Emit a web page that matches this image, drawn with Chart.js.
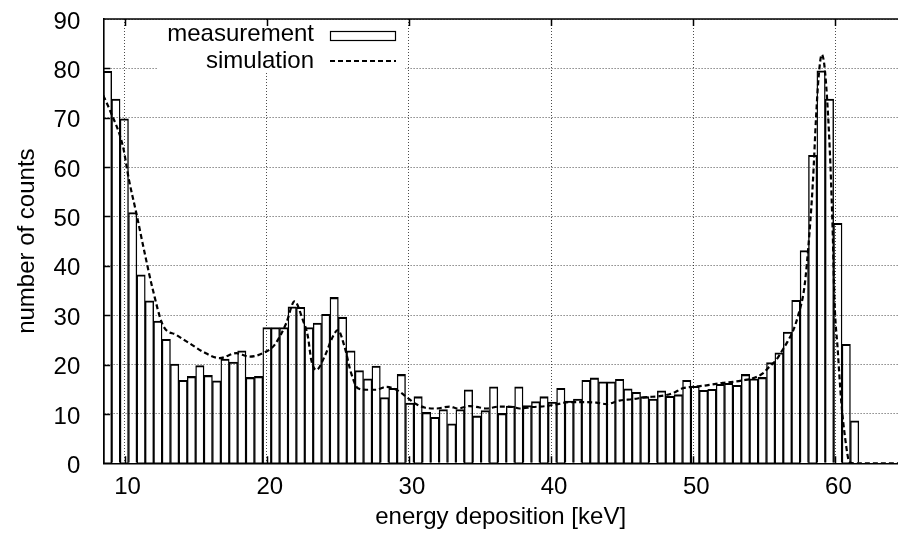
<!DOCTYPE html>
<html><head><meta charset="utf-8">
<script src="https://cdn.jsdelivr.net/npm/chart.js@4/dist/chart.umd.min.js"></script>
<style>html,body{margin:0;padding:0;background:#fff}</style>
</head><body>
<canvas id="c" width="898" height="540"></canvas>
<script>
// ---- data ----
const binCenters = [8.795,9.386,9.976,10.567,11.157,11.748,12.338,12.929,13.519,14.110,
14.700,15.291,15.881,16.472,17.062,17.653,18.243,18.834,19.424,20.015,
20.605,21.196,21.786,22.377,22.967,23.558,24.148,24.739,25.329,25.920,
26.510,27.101,27.691,28.282,28.872,29.463,30.053,30.644,31.234,31.825,
32.415,33.006,33.596,34.187,34.777,35.368,35.958,36.549,37.139,37.730,
38.320,38.911,39.501,40.092,40.682,41.273,41.863,42.454,43.044,43.635,
44.225,44.816,45.406,45.997,46.587,47.178,47.768,48.359,48.949,49.540,
50.130,50.721,51.311,51.902,52.492,53.083,53.673,54.264,54.854,55.445,
56.035,56.626,57.216,57.807,58.397,58.988,59.578,60.169,60.759,61.350];
const measurement = [79.4,73.8,69.8,50.8,38.2,32.9,28.8,25.1,20.1,16.8,
17.6,19.8,17.8,16.7,21.1,20.5,22.8,17.4,17.6,27.5,
27.5,27.5,31.7,31.6,27.5,28.4,30.2,33.6,29.6,22.8,
18.8,17.1,19.7,13.3,15.2,18.0,12.2,13.5,10.3,9.3,
10.9,8.0,10.9,14.9,9.6,10.7,15.5,10.1,11.6,15.5,
11.7,12.5,13.5,12.4,15.2,12.6,13.0,16.8,17.3,16.5,
16.5,17.0,15.1,14.4,13.5,13.0,14.7,13.6,13.9,16.8,
15.6,14.8,15.0,16.0,16.2,15.8,18.0,17.1,17.4,20.4,
22.4,26.6,33.0,43.1,62.4,79.5,73.8,48.6,24.1,8.6];
const simEnergy = [8.5,8.95,9.88,10.30,10.82,11.41,11.99,12.69,13.64,14.57,
15.51,16.68,17.86,18.79,19.73,20.55,21.37,21.95,22.54,22.89,
23.13,23.48,24.06,24.65,25.00,25.47,25.94,26.41,27.00,27.70,
28.40,29.11,29.81,30.39,31.10,31.92,32.86,33.44,34.26,34.97,
35.44,36.37,37.31,37.78,38.71,39.66,40.47,41.29,42.23,43.17,
43.88,44.81,45.75,46.69,47.62,48.56,49.26,49.97,50.67,51.37,
52.08,52.78,53.48,54.18,54.89,55.36,55.83,56.29,56.64,57.00,
57.35,57.82,58.17,58.41,58.64,58.82,59.04,59.23,59.46,59.65,
59.81,59.93,60.16,60.40,60.70,60.98,61.34,64.4];
const simulation = [74.5,71.6,64.2,57.5,50.7,42.6,35.1,28.0,26.0,24.3,
22.6,21.3,22.3,21.6,22.3,24.0,28.4,32.8,29.0,25.7,
20.9,18.9,21.6,25.7,27.0,23.6,18.2,15.2,14.9,14.9,
15.5,14.9,13.5,12.2,11.3,11.1,11.5,11.1,11.6,11.3,
11.1,11.5,11.4,11.1,11.4,11.6,12.0,12.4,12.4,12.3,
12.0,12.7,13.0,13.4,13.6,14.2,15.2,15.5,15.7,16.0,
16.3,16.5,16.8,17.2,18.2,19.6,20.9,23.0,24.7,26.7,
29.7,35.8,46.6,56.8,70.3,78.4,82.8,80.4,71.6,60.1,
46.6,33.1,23.0,12.8,4.7,0.3,0,0];
const xTicks = [10,20,30,40,50,60];
const yTicks = [0,10,20,30,40,50,60,70,80,90];
const xRange = [8.5, 64.4];
const yRange = [0, 90];
const seriesNames = ['measurement','simulation'];
const axisTitles = ['energy deposition [keV]','number of counts'];

// ---- styling ----
const FONT = '"Liberation Sans", Arial, Helvetica, sans-serif';
const gridColor = 'rgba(0,0,0,0.7)';

const frame = {
  id: 'frame',
  afterDatasetsDraw(chart) {
    const {ctx, chartArea: a, scales: {x, y}} = chart;
    ctx.save();
    // key (legend) with opaque background
    ctx.fillStyle = '#fff';
    ctx.fillRect(158, a.top + 1, 247, 52);
    ctx.font = '24px ' + FONT;
    ctx.fillStyle = '#000';
    ctx.textAlign = 'right';
    ctx.textBaseline = 'alphabetic';
    ctx.fillText(seriesNames[0], 314, 40.7);
    ctx.fillText(seriesNames[1], 314, 68.3);
    ctx.strokeStyle = '#000';
    ctx.lineWidth = 1.2;
    ctx.strokeRect(330.5, 31.5, 65, 9);
    ctx.lineWidth = 2;
    ctx.setLineDash([5, 3]);
    ctx.beginPath(); ctx.moveTo(330, 61); ctx.lineTo(396, 61); ctx.stroke();
    ctx.setLineDash([]);
    // inward tick marks
    ctx.lineWidth = 1.5;
    ctx.beginPath();
    xTicks.forEach(v => {
      const px = Math.round(x.getPixelForValue(v)) + 0.5;
      ctx.moveTo(px, a.bottom); ctx.lineTo(px, a.bottom - 7);
      ctx.moveTo(px, a.top); ctx.lineTo(px, a.top + 7);
    });
    yTicks.forEach(v => {
      if (v === yRange[0] || v === yRange[1]) return;
      const py = Math.round(y.getPixelForValue(v)) + 0.5;
      ctx.moveTo(a.left, py); ctx.lineTo(a.left + 7, py);
    });
    ctx.stroke();
    // top border
    ctx.lineWidth = 1.5;
    ctx.beginPath(); ctx.moveTo(a.left, a.top); ctx.lineTo(a.right, a.top); ctx.stroke();
    ctx.restore();
  }
};

new Chart(document.getElementById('c'), {
  type: 'bar',
  data: {
    datasets: [
      {
        type: 'bar',
        label: seriesNames[0],
        data: binCenters.map((c, i) => ({x: c, y: measurement[i]})),
        backgroundColor: 'rgba(0,0,0,0)',
        borderColor: '#000',
        borderWidth: {top: 1.4, left: 0.75, right: 0.75, bottom: 0},
        barPercentage: 1,
        categoryPercentage: 1,
        order: 2
      },
      {
        type: 'line',
        label: seriesNames[1],
        data: simEnergy.map((e, i) => ({x: e, y: simulation[i]})),
        borderColor: '#000',
        borderWidth: 2.2,
        borderDash: [5, 3],
        pointRadius: 0,
        fill: false,
        cubicInterpolationMode: 'monotone',
        order: 1
      }
    ]
  },
  options: {
    responsive: false,
    animation: false,
    devicePixelRatio: 1,
    layout: {padding: {top: 19, right: 0, bottom: 0, left: 0}},
    plugins: {legend: {display: false}, tooltip: {enabled: false}},
    scales: {
      x: {
        type: 'linear',
        min: xRange[0], max: xRange[1],
        offset: false,
        afterBuildTicks: s => { s.ticks = xTicks.map(v => ({value: v})); },
        afterFit: s => { s.height = 76.7; s.paddingLeft = 0; s.paddingRight = 0; },
        grid: {offset: false, color: gridColor, lineWidth: 1, drawTicks: false},
        border: {display: true, color: '#000', width: 1.6, dash: [1, 2]},
        ticks: {color: '#000', font: {family: FONT, size: 24}, padding: 10, labelOffset: 3,
                maxRotation: 0, autoSkip: false, callback: v => String(v)},
        title: {display: true, text: axisTitles[0], color: '#000', font: {family: FONT, size: 24},
                padding: {top: 0, bottom: 8}}
      },
      y: {
        type: 'linear',
        min: yRange[0], max: yRange[1],
        afterBuildTicks: s => { s.ticks = yTicks.map(v => ({value: v})); },
        afterFit: s => { s.width = 103.3; s.paddingTop = 0; s.paddingBottom = 0; },
        grid: {color: gridColor, lineWidth: 1, drawTicks: false},
        border: {display: true, color: '#000', width: 1.6, dash: [1, 2]},
        ticks: {color: '#000', font: {family: FONT, size: 24}, padding: 23, labelOffset: 3,
                callback: v => String(v)},
        title: {display: true, text: axisTitles[1], color: '#000', font: {family: FONT, size: 24},
                padding: {top: 12.6, bottom: 0}}
      }
    }
  },
  plugins: [frame]
});
</script>
</body></html>
